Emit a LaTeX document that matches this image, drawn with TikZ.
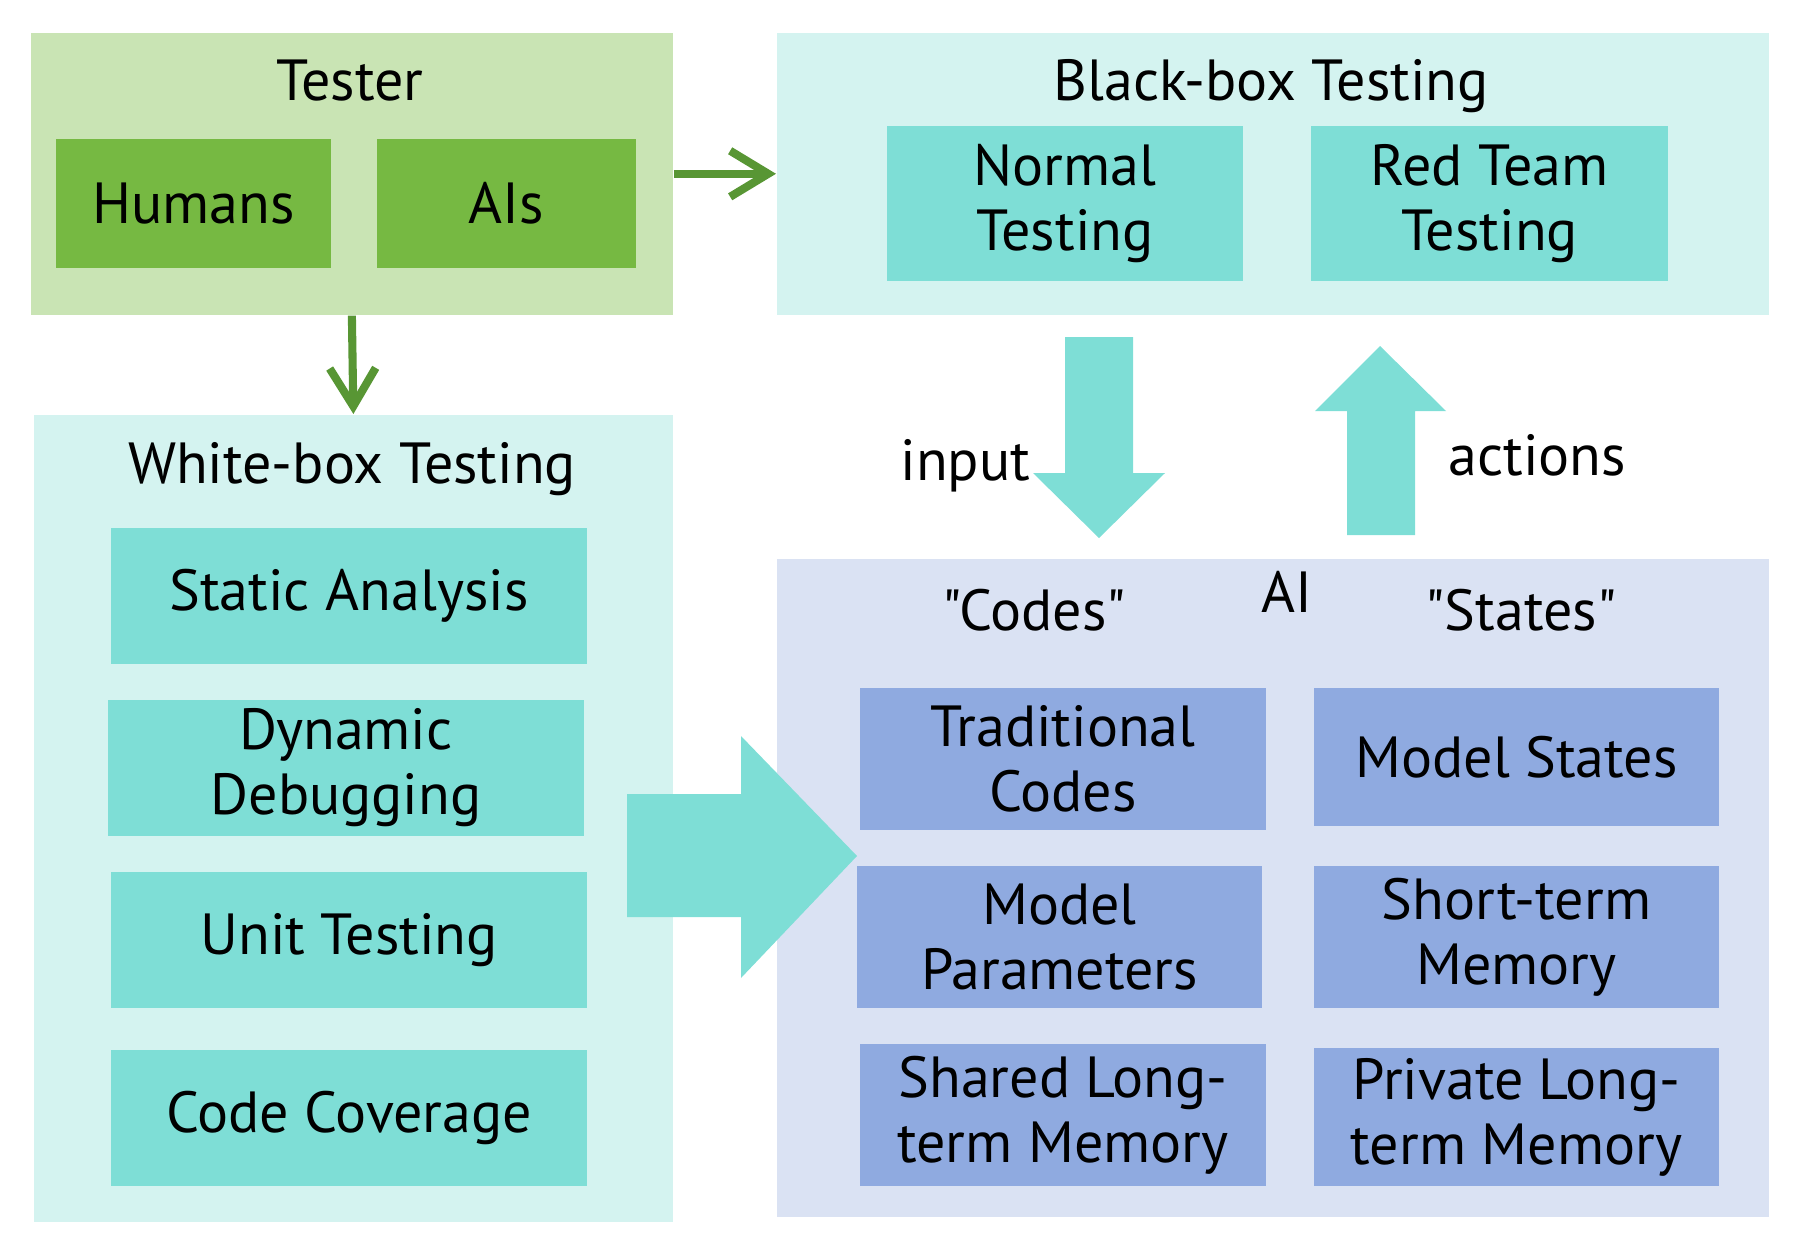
\documentclass[tikz,border=0pt]{standalone}
\usepackage{fontspec}
\setmainfont{PT Sans}
\newfontfamily\plainfont{PT Sans}
\usetikzlibrary{arrows.meta}

\definecolor{testerbg}{RGB}{201,228,180}
\definecolor{testergreen}{RGB}{118,185,66}
\definecolor{arrowgreen}{RGB}{88,150,52}
\definecolor{lightteal}{RGB}{212,243,240}
\definecolor{teal}{RGB}{126,222,214}
\definecolor{aibg}{RGB}{218,226,243}
\definecolor{aiblue}{RGB}{143,170,224}

\tikzset{
  panel/.style={rectangle, inner sep=0pt, anchor=north west},
  item/.style={rectangle, inner sep=0pt, align=center,
    font=\fontsize{16.5}{18.5}\selectfont},
  lbl/.style={inner sep=0pt, anchor=base, font=\fontsize{16.5}{18.5}\selectfont},
  garrow/.style={draw=arrowgreen, line width=2.3pt,
    -{Straight Barb[length=3.8mm, width=4.6mm]}},
}

\begin{document}
\begin{tikzpicture}[x=0.01cm, y=-0.01cm]
  \useasboundingbox (0, 0) rectangle (1802, 1248) ;
  \begin{scope}
    % panels
    \node[panel, fill=testerbg, minimum width=6.42cm, minimum height=2.82cm] (tester) at (30, 32) {} ;
    \node[panel, fill=lightteal, minimum width=9.92cm, minimum height=2.82cm] (blackbox) at (776, 32) {} ;
    \node[panel, fill=lightteal, minimum width=6.39cm, minimum height=8.07cm] (whitebox) at (33, 414) {} ;
    \node[panel, fill=aibg, minimum width=9.92cm, minimum height=6.58cm] (aibox) at (776, 558) {} ;
    % tester
    \node[lbl] (testertitle) at (350, 100) {Tester} ;
    \node[item, fill=testergreen, minimum width=2.75cm, minimum height=1.29cm] (humans) at (193.5, 203.5) {Humans} ;
    \node[item, fill=testergreen, minimum width=2.59cm, minimum height=1.29cm] (ais) at (506.5, 203.5) {AIs} ;
    % black-box
    \node[lbl] (blacktitle) at (1271, 100) {Black-box Testing} ;
    \node[item, fill=teal, minimum width=3.56cm, minimum height=1.55cm] (normal) at (1065, 203.5) {Normal\\Testing} ;
    \node[item, fill=teal, minimum width=3.57cm, minimum height=1.55cm] (redteam) at (1489.5, 203.5) {Red Team\\Testing} ;
    % white-box
    \node[lbl] (whitetitle) at (352, 483) {White-box Testing} ;
    \node[item, fill=teal, minimum width=4.76cm, minimum height=1.36cm] (static) at (349, 596) {Static Analysis} ;
    \node[item, fill=teal, minimum width=4.76cm, minimum height=1.36cm] (dynamic) at (346, 768) {Dynamic\\Debugging} ;
    \node[item, fill=teal, minimum width=4.76cm, minimum height=1.36cm] (unit) at (349, 940) {Unit Testing} ;
    \node[item, fill=teal, minimum width=4.76cm, minimum height=1.36cm] (coverage) at (349, 1118) {Code Coverage} ;
    % AI
    \node[lbl] (aititle) at (1287, 612) {AI} ;
    \node[lbl] (codes) at (1034, 630) {\plainfont"Codes"} ;
    \node[lbl] (states) at (1521, 630) {\plainfont"States"} ;
    \node[item, fill=aiblue, minimum width=4.06cm, minimum height=1.42cm] (tradcodes) at (1063, 759) {Traditional\\Codes} ;
    \node[item, fill=aiblue, minimum width=4.05cm, minimum height=1.38cm] (modelstates) at (1516.5, 757) {Model States} ;
    \node[item, fill=aiblue, minimum width=4.05cm, minimum height=1.42cm] (modelparams) at (1059.5, 937) {Model\\Parameters} ;
    \node[item, fill=aiblue, minimum width=4.05cm, minimum height=1.42cm] (shortterm) at (1516.5, 937) {Short-term\\Memory} ;
    \node[item, fill=aiblue, minimum width=4.06cm, minimum height=1.42cm] (sharedlong) at (1063, 1115) {Shared Long-\\term Memory} ;
    \node[item, fill=aiblue, minimum width=4.05cm, minimum height=1.38cm] (privatelong) at (1516.5, 1117) {Private Long-\\term Memory} ;
    % green arrows
    \draw[garrow] (tester.east) -- (blackbox.west) ;
    \draw[garrow] (tester.south) -- (whitebox.north) ;
    % block arrows
    \fill[teal] (1065, 337) -- (1133, 337) -- (1133, 473) -- (1165, 473) -- (1099, 538)
      -- (1033, 473) -- (1065, 473) -- cycle ;
    \node[lbl, anchor=base east] (input) at (1031, 480) {input} ;
    \fill[teal] (1347, 535) -- (1415, 535) -- (1415, 411) -- (1446, 411) -- (1380, 346)
      -- (1315, 411) -- (1347, 411) -- cycle ;
    \node[lbl, anchor=base west] (actions) at (1448, 475) {actions} ;
    \fill[teal] (627, 794) -- (741, 794) -- (741, 736) -- (857, 856) -- (741, 978)
      -- (741, 917) -- (627, 917) -- cycle ;
  \end{scope}
\end{tikzpicture}
\end{document}
